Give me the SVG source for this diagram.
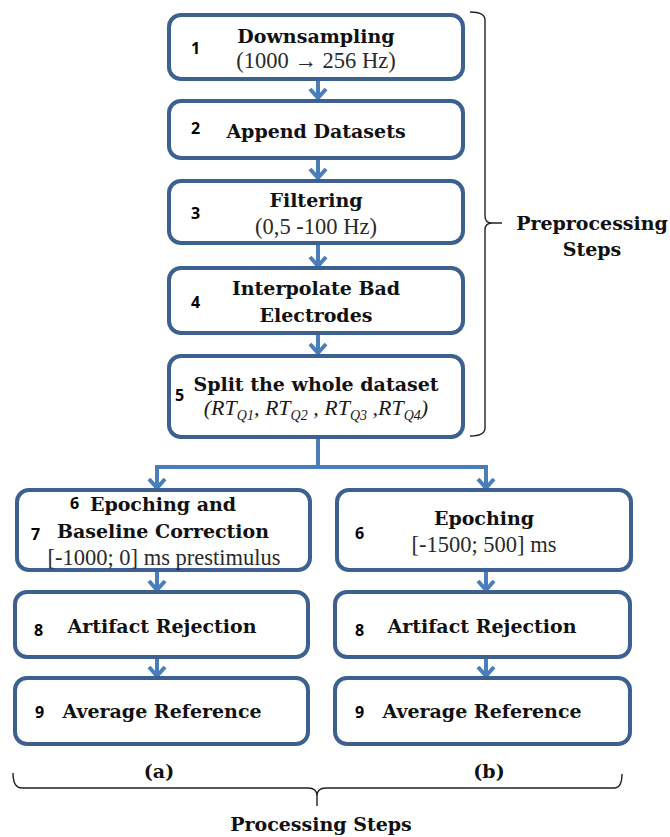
<svg xmlns="http://www.w3.org/2000/svg" width="670" height="837" viewBox="0 0 670 837">
  <style>
    .box { fill: #ffffff; stroke: #3c6191; stroke-width: 4; }
    .conn { fill: none; stroke: #4a7ebb; stroke-width: 4; }
    .brace { fill: none; stroke: #222222; stroke-width: 1.4; }
    .t { font-family: "DejaVu Serif", "Liberation Serif", serif; font-weight: bold; font-size: 19px; fill: #111111; text-anchor: middle; }
    .r { font-family: "Liberation Serif", "DejaVu Serif", serif; font-size: 22.5px; fill: #2a2a2a; text-anchor: middle; }
    .ri { font-family: "Liberation Serif", "DejaVu Serif", serif; font-style: italic; font-size: 22px; fill: #1a1a1a; }
    .sub { font-size: 14px; }
    .n { font-family: "Open Sans", "Liberation Sans", sans-serif; font-weight: bold; font-size: 16px; fill: #000000; }
  </style>
  <defs>
    <marker id="chev" markerUnits="userSpaceOnUse" viewBox="-12 -12 24 24" markerWidth="24" markerHeight="24" refX="0" refY="0" orient="auto">
      <path d="M-9,-8 L0,0 L-9,8" fill="none" stroke="#4a7ebb" stroke-width="4"/>
    </marker>
  </defs>

  <!-- connectors -->
  <g id="connectors">
    <line class="conn" x1="318" y1="80" x2="318" y2="98" marker-end="url(#chev)"/>
    <line class="conn" x1="318" y1="159" x2="318" y2="178" marker-end="url(#chev)"/>
    <line class="conn" x1="318" y1="244" x2="318" y2="266" marker-end="url(#chev)"/>
    <line class="conn" x1="318" y1="334" x2="318" y2="353" marker-end="url(#chev)"/>
    <polyline class="conn" points="318,438 318,467"/>
    <polyline class="conn" points="318,467 157,467 157,488" marker-end="url(#chev)"/>
    <polyline class="conn" points="318,467 486,467 486,488" marker-end="url(#chev)"/>
    <line class="conn" x1="157" y1="571" x2="157" y2="590" marker-end="url(#chev)"/>
    <line class="conn" x1="157" y1="658" x2="157" y2="676" marker-end="url(#chev)"/>
    <line class="conn" x1="486" y1="571" x2="486" y2="590" marker-end="url(#chev)"/>
    <line class="conn" x1="486" y1="658" x2="486" y2="676" marker-end="url(#chev)"/>
  </g>

  <!-- preprocessing chain -->
  <g id="step1">
    <rect class="box" x="169" y="15" width="294" height="64" rx="12"/>
    <text class="n" x="191" y="54">1</text>
    <text class="t" x="316" y="43">Downsampling</text>
    <text class="r" x="316" y="68">(1000 → 256 Hz)</text>
  </g>
  <g id="step2">
    <rect class="box" x="169" y="101" width="294" height="57" rx="12"/>
    <text class="n" x="191" y="134">2</text>
    <text class="t" x="316" y="138">Append Datasets</text>
  </g>
  <g id="step3">
    <rect class="box" x="169" y="181" width="294" height="62" rx="12"/>
    <text class="n" x="191" y="219">3</text>
    <text class="t" x="316" y="207">Filtering</text>
    <text class="r" x="316" y="234">(0,5 -100 Hz)</text>
  </g>
  <g id="step4">
    <rect class="box" x="169" y="268" width="294" height="65" rx="12"/>
    <text class="n" x="191" y="308">4</text>
    <text class="t" x="316" y="295">Interpolate Bad</text>
    <text class="t" x="316" y="322">Electrodes</text>
  </g>
  <g id="step5">
    <rect class="box" x="169" y="356" width="294" height="81" rx="12"/>
    <text class="n" x="175" y="401">5</text>
    <text class="t" x="316" y="391">Split the whole dataset</text>
    <text class="ri" x="316" y="415" text-anchor="middle">(RT<tspan class="sub" dy="5">Q1</tspan><tspan dy="-5">, RT</tspan><tspan class="sub" dy="5">Q2</tspan><tspan dy="-5"> , RT</tspan><tspan class="sub" dy="5">Q3</tspan><tspan dy="-5"> ,RT</tspan><tspan class="sub" dy="5">Q4</tspan><tspan dy="-5">)</tspan></text>
  </g>

  <!-- branch (a) -->
  <g id="a-step6">
    <rect class="box" x="17" y="490" width="293" height="80" rx="12"/>
    <text class="n" x="70" y="509">6</text>
    <text class="t" x="163" y="511">Epoching and</text>
    <text class="n" x="31" y="540">7</text>
    <text class="t" x="163" y="538">Baseline Correction</text>
    <text class="r" x="164" y="565">[-1000; 0] ms prestimulus</text>
  </g>
  <g id="a-step8">
    <rect class="box" x="15" y="592" width="293" height="65" rx="12"/>
    <text class="n" x="34" y="636">8</text>
    <text class="t" x="162" y="633">Artifact Rejection</text>
  </g>
  <g id="a-step9">
    <rect class="box" x="15" y="678" width="293" height="66" rx="12"/>
    <text class="n" x="35" y="718">9</text>
    <text class="t" x="162" y="718">Average Reference</text>
  </g>

  <!-- branch (b) -->
  <g id="b-step6">
    <rect class="box" x="337" y="490" width="294" height="80" rx="12"/>
    <text class="n" x="355" y="539">6</text>
    <text class="t" x="484" y="525">Epoching</text>
    <text class="r" x="484" y="552">[-1500; 500] ms</text>
  </g>
  <g id="b-step8">
    <rect class="box" x="335" y="592" width="295" height="65" rx="12"/>
    <text class="n" x="355" y="636">8</text>
    <text class="t" x="482" y="633">Artifact Rejection</text>
  </g>
  <g id="b-step9">
    <rect class="box" x="335" y="678" width="295" height="66" rx="12"/>
    <text class="n" x="355" y="718">9</text>
    <text class="t" x="482" y="718">Average Reference</text>
  </g>

  <!-- braces and their labels -->
  <g id="preprocessing-brace">
    <path class="brace" d="M470,12 Q485,12 485,20 L485,216 Q485,223 492,223 L502,223 M492,223 Q485,223 485,230 L485,428 Q485,436 470,436"/>
    <text class="t" x="592" y="230">Preprocessing</text>
    <text class="t" x="592" y="256">Steps</text>
  </g>
  <g id="processing-brace">
    <path class="brace" d="M13,773 Q13,788 22,788 L308,788 Q317,788 317,796 L317,806 M317,796 Q317,788 326,788 L614,788 Q622,788 622,774"/>
    <text class="t" x="159" y="778">(a)</text>
    <text class="t" x="489" y="778">(b)</text>
    <text class="t" x="321" y="831">Processing Steps</text>
  </g>
</svg>
